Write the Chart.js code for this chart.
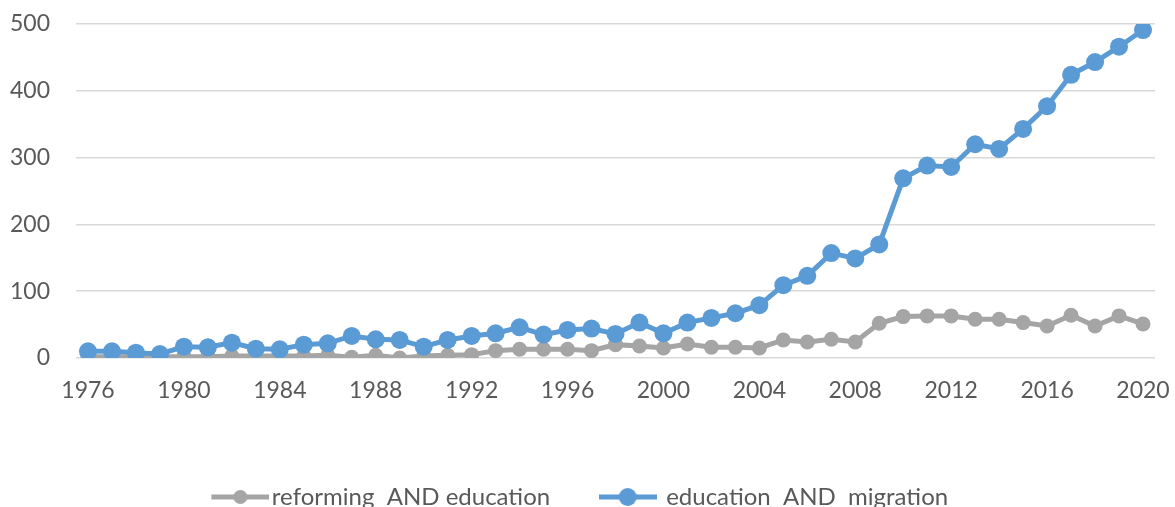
<!DOCTYPE html>
<html>
<head>
<meta charset="utf-8">
<script src="https://cdn.jsdelivr.net/npm/chart.js@4/dist/chart.umd.min.js"></script>
<style>
  html, body { margin: 0; padding: 0; background: #fff; }
  #wrap { width: 1175px; height: 507px; }
</style>
</head>
<body>
<div id="wrap"><canvas id="chart" width="1175" height="507"></canvas></div>
<script>
// years on the category axis
const years = [];
for (let y = 1976; y <= 2020; y++) years.push(String(y));

const reformingEducation = [
  2, 2, 2, 2, 2, 2, 3, 3, 3, 3, 4, 1, 4, 0, 3, 4, 5, 11, 13, 13,
  13, 11, 20, 18, 15, 21, 16, 16, 15, 27, 24, 28, 24, 52, 62, 63, 63, 58, 58, 53,
  48, 64, 48, 63, 51
];
const educationMigration = [
  10, 10, 8, 6, 17, 16, 23, 14, 13, 20, 22, 33, 28, 27, 17, 27, 33, 37, 46, 35,
  42, 44, 36, 53, 37, 53, 60, 67, 79, 109, 123, 157, 149, 170, 269, 288, 286, 320, 313, 343,
  377, 424, 443, 466, 491
];
const yTicks = [0, 100, 200, 300, 400, 500];

const GRAY = '#A5A5A5';
const BLUE = '#5B9BD5';
const FONT = "Lato, 'Open Sans', sans-serif";

// legend marker: short line with a dot, like the office chart legend
// shift moves the mark right inside its (centered) image
function legendMark(color, r, shift) {
  const c = document.createElement('canvas');
  c.width = 58 + 2 * shift; c.height = 22;
  const g = c.getContext('2d');
  g.strokeStyle = color; g.lineWidth = 5;
  g.beginPath(); g.moveTo(2 * shift, 11); g.lineTo(2 * shift + 58, 11); g.stroke();
  g.fillStyle = color;
  g.beginPath(); g.arc(2 * shift + 29, 11, r, 0, Math.PI * 2); g.fill();
  return c;
}
const marks = [legendMark(GRAY, 7, 7), legendMark(BLUE, 9, 0)];

new Chart(document.getElementById('chart'), {
  type: 'line',
  data: {
    labels: years,
    datasets: [
      {
        label: 'reforming  AND education',
        data: reformingEducation,
        borderColor: GRAY,
        backgroundColor: GRAY,
        borderWidth: 5,
        pointRadius: 7.5,
        pointHoverRadius: 7.5,
        pointBorderWidth: 0,
        tension: 0,
        order: 1
      },
      {
        label: 'education  AND  migration',
        data: educationMigration,
        borderColor: BLUE,
        backgroundColor: BLUE,
        borderWidth: 5,
        pointRadius: 9,
        pointHoverRadius: 9,
        pointBorderWidth: 0,
        tension: 0,
        order: 0
      }
    ]
  },
  options: {
    responsive: false,
    animation: false,
    layout: { padding: { top: 24, right: 20, left: 0, bottom: -12 } },
    scales: {
      x: {
        offset: true,
        grid: { display: false },
        border: { display: false },
        ticks: {
          autoSkip: false,
          maxRotation: 0,
          padding: 11,
          color: '#595959',
          font: { family: FONT, size: 23 },
          callback: function (val, idx) { return idx % 4 === 0 ? this.getLabelForValue(val) : ''; }
        },
        afterFit: (scale) => {
          scale.height = 76;
          scale.paddingLeft = 0;
          scale.paddingRight = 0;
        }
      },
      y: {
        min: 0,
        max: 500,
        afterBuildTicks: (scale) => { scale.ticks = yTicks.map(v => ({ value: v })); },
        grid: { color: '#D9D9D9', lineWidth: 1.5, drawTicks: false },
        border: { display: false },
        ticks: {
          padding: 26,
          color: '#595959',
          font: { family: FONT, size: 23 }
        },
        afterFit: (scale) => {
          scale.width = 76;
          // tick padding would otherwise push the plot area down
          scale.paddingTop = 0;
          scale.paddingBottom = 0;
        }
      }
    },
    plugins: {
      tooltip: { enabled: false },
      legend: {
        position: 'bottom',
        labels: {
          usePointStyle: true,
          pointStyleWidth: 53,
          padding: 51,
          color: '#595959',
          font: { family: FONT, size: 24 },
          generateLabels: (chart) => chart.data.datasets.map((ds, i) => ({
            text: ds.label,
            pointStyle: marks[i],
            fillStyle: ds.borderColor,
            strokeStyle: ds.borderColor,
            lineWidth: 0,
            fontColor: '#595959',
            hidden: false,
            datasetIndex: i
          }))
        }
      }
    }
  }
});
</script>
</body>
</html>
